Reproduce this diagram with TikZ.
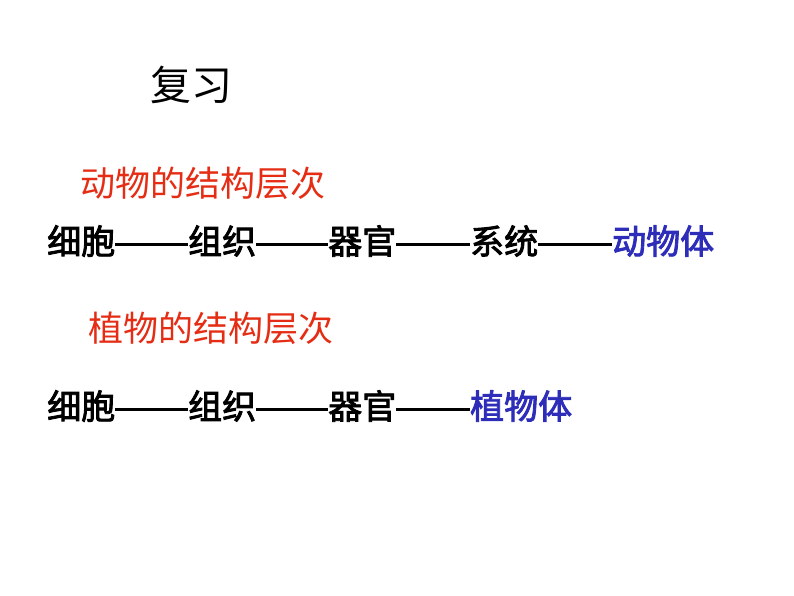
\documentclass[tikz,border=0pt]{standalone}
\usepackage{fontspec}
\newfontfamily\cjk{Noto Sans CJK SC}
\newfontfamily\cjkheavy[FakeBold=2.5]{Noto Sans CJK SC}
\usetikzlibrary{positioning}
\definecolor{titlered}{RGB}{228,45,20}
\definecolor{endblue}{RGB}{45,45,185}
\tikzset{
  word/.style={inner sep=0pt, anchor=west, font=\cjkheavy\fontsize{34}{34}\selectfont},
  head/.style={inner sep=0pt, anchor=west, text=titlered, font=\cjk\fontsize{35}{35}\selectfont},
  link/.style={line width=3pt},
}
\begin{document}
\begin{tikzpicture}[x=1pt,y=-1pt]

	\useasboundingbox (0,0) rectangle (794,596);
	%\draw[help lines,step=50] (0,0) grid (794,596);

	\node[inner sep=0pt, anchor=west, font=\cjk\fontsize{41}{41}\selectfont] (review) at (150,85) {复习};

	% animal
	\node[head] (animaltitle) at (80,183) {动物的结构层次};

	\node[word] (cellA) at (47,241) {细胞};
	\node[word] (tissueA) at (188,241) {组织};
	\node[word] (organA) at (328,241) {器官};
	\node[word] (systemA) at (470,241) {系统};
	\node[word, text=endblue] (animal) at (612,241) {动物体};

	\foreach \a/\b in {cellA/tissueA, tissueA/organA, organA/systemA, systemA/animal} {
		\draw[link] ([yshift=-3pt]\a.east) -- ([yshift=-3pt]\b.west);
	}

	% plant
	\node[head] (planttitle) at (88,328) {植物的结构层次};

	\node[word] (cellP) at (47,406) {细胞};
	\node[word] (tissueP) at (188,406) {组织};
	\node[word] (organP) at (328,406) {器官};
	\node[word, text=endblue] (plant) at (470,406) {植物体};

	\foreach \a/\b in {cellP/tissueP, tissueP/organP, organP/plant} {
		\draw[link] ([yshift=-3pt]\a.east) -- ([yshift=-3pt]\b.west);
	}

\end{tikzpicture}
\end{document}
